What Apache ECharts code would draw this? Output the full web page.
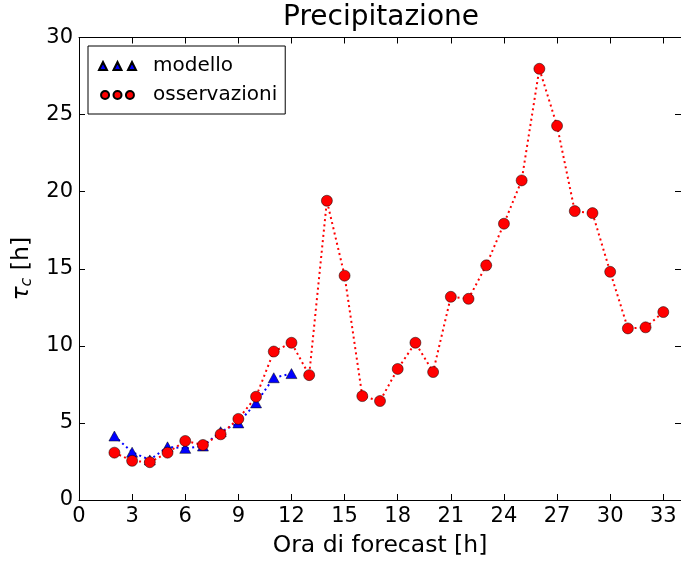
<!DOCTYPE html>
<html>
<head>
<meta charset="utf-8">
<script src="https://cdn.jsdelivr.net/npm/echarts@6/dist/echarts.min.js"></script>
<style>
html,body{margin:0;padding:0;background:#fff;}
#c{width:681px;height:563px;}
</style>
</head>
<body>
<div id="c"></div>
<script>
const hours = [2,3,4,5,6,7,8,9,10,11,12,13,14,15,16,17,18,19,20,21,22,23,24,25,26,27,28,29,30,31,32,33];
const osservazioni = [3.07,2.54,2.45,3.07,3.83,3.57,4.26,5.26,6.7,9.63,10.2,8.1,19.41,14.55,6.74,6.42,8.5,10.2,8.3,13.18,13.05,15.22,17.92,20.73,27.97,24.27,18.74,18.61,14.8,11.13,11.2,12.19];
const modelloHours = [2,3,4,5,6,7,8,9,10,11,12];
const modello = [4.15,3.1,2.6,3.45,3.35,3.5,4.43,5.0,6.3,7.93,8.2];
const xTicks = [0,3,6,9,12,15,18,21,24,27,30,33];
const yTicks = [0,5,10,15,20,25,30];

const FONT = 'DejaVu Sans';
const pair = (xs, ys) => xs.map((x, i) => [x, ys[i]]);

const triIcon = 'path://M0,8L4,0L8,8Z M14.5,8L18.5,0L22.5,8Z M29,8L33,0L37,8Z';
const dotIcon = 'path://M0,4.5A4.5,4.5 0 1,1 9,4.5A4.5,4.5 0 1,1 0,4.5Z M14,4.5A4.5,4.5 0 1,1 23,4.5A4.5,4.5 0 1,1 14,4.5Z M28,4.5A4.5,4.5 0 1,1 37,4.5A4.5,4.5 0 1,1 28,4.5Z';

const tickCommon = {
  axisLine: {show: true, onZero: false, lineStyle: {color: '#000', width: 1}},
  axisTick: {show: true, inside: true, length: 6, lineStyle: {color: '#000', width: 1}},
  splitLine: {show: false}
};

const chart = echarts.init(document.getElementById('c'), null, {renderer: 'canvas'});
chart.setOption({
  backgroundColor: '#fff',
  animation: false,
  textStyle: {fontFamily: FONT},
  title: {
    text: 'Precipitazione',
    left: 381, top: 4, textAlign: 'center', padding: 0,
    textStyle: {fontFamily: FONT, fontSize: 28, fontWeight: 'normal', color: '#000'}
  },
  grid: {left: 79, top: 37.5, width: 604, height: 462.5, containLabel: false},
  legend: {
    orient: 'vertical', left: 88, top: 46,
    padding: [10, 8, 9, 10],
    itemGap: 9, itemWidth: 37, itemHeight: 8,
    backgroundColor: '#fff', borderColor: '#000', borderWidth: 1, borderRadius: 0,
    textStyle: {fontFamily: FONT, fontSize: 20, color: '#000', lineHeight: 20, padding: [0, 0, 0, 12]},
    data: [
      {name: 'modello', icon: triIcon},
      {name: 'osservazioni', icon: dotIcon}
    ]
  },
  xAxis: [
    Object.assign({
      type: 'value', min: 0, max: 34, interval: 3, position: 'bottom',
      name: 'Ora di forecast [h]', nameLocation: 'middle', nameGap: 34,
      nameTextStyle: {fontFamily: FONT, fontSize: 23.5, color: '#000'},
      axisLabel: {
        show: true, margin: 6, fontFamily: FONT, fontSize: 21, color: '#000',
        showMaxLabel: false,
        formatter: v => xTicks.indexOf(v) >= 0 ? String(v) : ''
      }
    }, tickCommon),
    Object.assign({
      type: 'value', min: 0, max: 34, interval: 3, position: 'top',
      axisLabel: {show: false}
    }, tickCommon)
  ],
  yAxis: [
    Object.assign({
      type: 'value', min: 0, max: 30, interval: 5, position: 'left',
      name: '{t|τ}{s|c} [h]', nameLocation: 'middle', nameGap: 44,
      nameTextStyle: {
        fontFamily: FONT, fontSize: 23.5, color: '#000',
        rich: {
          t: {fontFamily: FONT, fontStyle: 'italic', fontSize: 23.5, color: '#000'},
          s: {fontFamily: FONT, fontStyle: 'italic', fontSize: 16, color: '#000', verticalAlign: 'bottom', padding: [10, 0, 0, 0]}
        }
      },
      axisLabel: {
        show: true, margin: 6, fontFamily: FONT, fontSize: 21, color: '#000',
        formatter: v => yTicks.indexOf(v) >= 0 ? String(v) : ''
      }
    }, tickCommon),
    Object.assign({
      type: 'value', min: 0, max: 30, interval: 5, position: 'right',
      axisLabel: {show: false}
    }, tickCommon)
  ],
  series: [
    {
      name: 'modello', type: 'line', xAxisIndex: 0, yAxisIndex: 0,
      data: pair(modelloHours, modello),
      symbol: 'triangle', symbolSize: [11, 10],
      itemStyle: {color: '#0000ff', borderColor: '#000', borderWidth: 0.5},
      lineStyle: {color: '#0000ff', width: 2, type: [2, 3.3]},
      z: 2
    },
    {
      name: 'osservazioni', type: 'line', xAxisIndex: 0, yAxisIndex: 0,
      data: pair(hours, osservazioni),
      symbol: 'circle', symbolSize: 11,
      itemStyle: {color: '#ff0000', borderColor: '#000', borderWidth: 0.5},
      lineStyle: {color: '#ff0000', width: 2, type: [2, 3.3]},
      z: 3
    }
  ]
});
</script>
</body>
</html>
